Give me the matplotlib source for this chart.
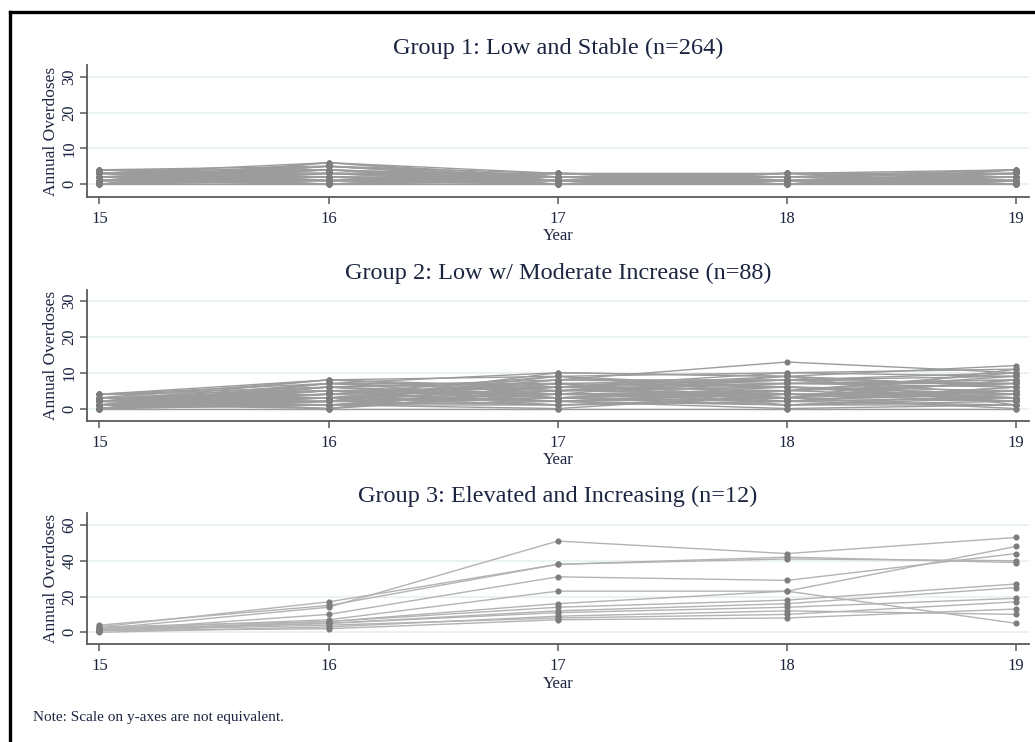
import matplotlib
matplotlib.use("Agg")
import matplotlib.pyplot as plt
from matplotlib.lines import Line2D

plt.rcParams["font.family"] = ["Liberation Serif", "DejaVu Serif"]

years = [15, 16, 17, 18, 19]

titles = ["Group 1: Low and Stable (n=264)",
          "Group 2: Low w/ Moderate Increase (n=88)",
          "Group 3: Elevated and Increasing (n=12)"]

# group 1: individual trajectories
g1 = [
    [0, 0, 0, 0, 0], [1, 0, 0, 0, 0], [0, 1, 0, 0, 1], [1, 1, 1, 0, 0],
    [2, 1, 0, 1, 0], [0, 2, 1, 0, 1], [1, 2, 1, 1, 2], [3, 1, 1, 1, 0],
    [2, 3, 1, 0, 1], [0, 3, 2, 1, 2], [1, 4, 1, 2, 1], [4, 2, 1, 1, 1],
    [2, 5, 2, 1, 3], [3, 6, 3, 2, 4], [0, 6, 2, 3, 2], [1, 0, 3, 2, 1],
    [4, 1, 2, 3, 4], [2, 2, 2, 2, 3], [3, 4, 0, 1, 2], [0, 1, 1, 2, 4],
    [1, 3, 3, 0, 0], [2, 0, 1, 3, 3], [4, 5, 1, 2, 1], [3, 2, 0, 0, 2],
    [1, 5, 2, 1, 0], [0, 4, 0, 0, 3], [2, 1, 3, 1, 2], [3, 0, 2, 2, 1],
    [0, 2, 0, 1, 0], [1, 1, 2, 0, 1], [2, 2, 0, 2, 0], [3, 3, 2, 0, 3],
    [0, 0, 1, 1, 2], [1, 3, 0, 3, 0], [2, 4, 2, 2, 2], [3, 1, 3, 1, 1],
    [4, 3, 0, 2, 3], [0, 5, 1, 0, 4], [1, 6, 1, 1, 1], [2, 0, 2, 0, 4],
    [3, 5, 3, 3, 0], [4, 4, 2, 0, 2], [0, 3, 3, 2, 1], [1, 2, 0, 3, 3],
]

# group 2
g2 = [
    [0, 0, 0, 0, 0], [1, 2, 3, 2, 1], [0, 1, 2, 4, 3], [2, 3, 4, 3, 5],
    [1, 4, 5, 6, 4], [3, 5, 6, 5, 7], [4, 6, 7, 8, 9], [2, 8, 9, 10, 11],
    [0, 7, 10, 9, 12], [1, 3, 8, 13, 10], [3, 2, 6, 7, 8], [0, 5, 4, 9, 6],
    [2, 1, 3, 5, 10], [4, 8, 5, 4, 3], [1, 6, 2, 1, 2], [0, 2, 1, 3, 0],
    [3, 4, 9, 6, 4], [2, 0, 5, 8, 7], [1, 7, 7, 2, 5], [4, 3, 2, 0, 1],
    [0, 4, 6, 10, 9], [2, 5, 1, 2, 6], [1, 0, 4, 5, 3], [3, 1, 0, 4, 2],
    [0, 3, 7, 3, 11], [2, 6, 8, 7, 8], [1, 2, 10, 9, 6], [4, 7, 3, 1, 4],
    [0, 1, 5, 6, 2], [3, 8, 6, 8, 10], [1, 4, 2, 5, 7], [2, 2, 9, 4, 5],
    [0, 2, 3, 1, 1], [1, 1, 1, 2, 3], [2, 3, 2, 3, 2], [3, 2, 4, 4, 4],
    [1, 5, 3, 6, 5], [0, 3, 5, 7, 6], [2, 4, 6, 3, 8], [1, 6, 4, 5, 9],
    [3, 0, 7, 6, 3], [0, 2, 8, 8, 4], [2, 7, 5, 7, 7], [1, 1, 6, 9, 1],
    [4, 5, 4, 2, 6], [0, 6, 3, 4, 2], [2, 4, 7, 1, 3], [1, 3, 1, 3, 8],
]

# group 3
g3 = [
    [2, 14, 51, 44, 53],
    [3, 17, 38, 42, 39],
    [4, 15, 38, 41, 40],
    [1, 10, 31, 29, 44],
    [2, 7, 23, 23, 48],
    [1, 6, 16, 23, 5],
    [3, 6, 14, 18, 27],
    [1, 5, 12, 16, 25],
    [2, 5, 11, 14, 19],
    [0, 3, 9, 12, 10],
    [1, 4, 8, 10, 17],
    [1, 2, 7, 8, 13],
]

groups = [g1, g2, g3]
yticks = [[0, 10, 20, 30], [0, 10, 20, 30], [0, 20, 40, 60]]
ylims = [(-3.6, 33.3), (-3.4, 33.1), (-6.7, 66.5)]
line_cols = ["#9c9c9c", "#9c9c9c", "#b3b3b3"]
# axes boxes in figure fraction (left, bottom, width, height)
boxes = [(0.0841, 0.7345, 0.9101, 0.1779),
         (0.0841, 0.4330, 0.9101, 0.1761),
         (0.0841, 0.1317, 0.9101, 0.1765)]

navy = "#1c2540"
fig = plt.figure(figsize=(10.35, 7.42), dpi=100)

for g, tt, yt, yl, lc, box in zip(groups, titles, yticks, ylims, line_cols, boxes):
    ax = fig.add_axes(box)
    for traj in g:
        ax.plot(years, traj, color=lc, lw=1.0, zorder=2)
        ax.plot(years, traj, ls="none", marker="o", ms=3.4, color="#7d7d7d",
                mec="#7d7d7d", zorder=3)
    ax.set_xlim(14.946, 19.056)
    ax.set_ylim(*yl)
    ax.set_xticks(years)
    ax.set_yticks(yt)
    ax.grid(axis="y", color="#e8f0f2", lw=1.2, zorder=0)
    for s in ["top", "right"]:
        ax.spines[s].set_visible(False)
    for s in ["left", "bottom"]:
        ax.spines[s].set_color("#5a5a5a")
        ax.spines[s].set_linewidth(1.3)
    ax.tick_params(axis="both", colors="#5a5a5a", length=5, width=1.1,
                   labelcolor=navy, labelsize=12)
    ax.tick_params(axis="x", pad=5)
    ax.tick_params(axis="y", labelrotation=90, pad=2)
    for lab in ax.get_yticklabels():
        lab.set_va("center")
    ax.set_ylabel("Annual Overdoses", color=navy, fontsize=12.5, labelpad=2)
    ax.set_xlabel("Year", color=navy, fontsize=12, labelpad=1)
    ax.set_title(tt, color=navy, fontsize=17.5, pad=8)

fig.text(33 / 1035, 1 - 718 / 742, "Note: Scale on y-axes are not equivalent.",
         color=navy, fontsize=11, va="center")

# outer frame (only top and left edges visible in the crop)
fig.add_artist(Line2D([10 / 1035, 1], [1 - 12 / 742, 1 - 12 / 742],
                      transform=fig.transFigure, color="black", lw=2.4))
fig.add_artist(Line2D([10 / 1035, 10 / 1035], [0, 1 - 12 / 742],
                      transform=fig.transFigure, color="black", lw=2.4))

fig.savefig("out.png", dpi=100)
